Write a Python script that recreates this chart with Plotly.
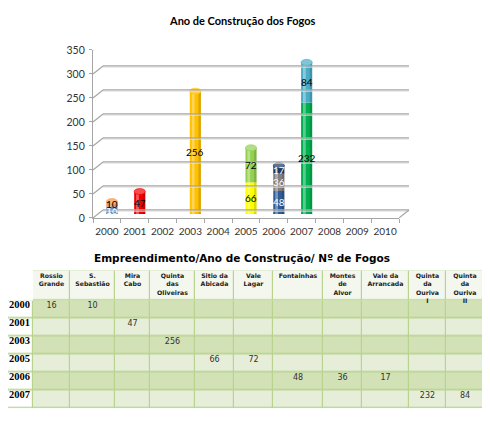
"""
Grafico de cilindros (ano de construcao dos fogos) e tabela
empreendimento / ano / numero de fogos.
"""

# imports
import plotly.graph_objects as go

# categorias do eixo x do grafico
anos = ["2000", "2001", "2002", "2003", "2004", "2005",
        "2006", "2007", "2008", "2009", "2010"]
ticks_y = [0, 50, 100, 150, 200, 250, 300, 350]

# empreendimentos (cabecalho da tabela), ano e numero de fogos
empreendimentos = ["Rossio<br>Grande", "S.<br>Sebastião", "Mira<br>Cabo",
                   "Quinta<br>das<br>Oliveiras", "Sitio da<br>Abicada",
                   "Vale<br>Lagar", "Fontainhas", "Montes<br>de<br>Alvor",
                   "Vale da<br>Arrancada", "Quinta<br>da<br>Ouriva<br>I",
                   "Quinta<br>da<br>Ouriva<br>II"]
ano_empreendimento = ["2000", "2000", "2001", "2003", "2005", "2005",
                      "2006", "2006", "2006", "2007", "2007"]
fogos = [16, 10, 47, 256, 66, 72, 48, 36, 17, 232, 84]

# estilos
cores = ["#5a8ac9", "#f79646", "#f20000", "#ffc000", "#ffff00", "#92d050",
         "#2f5b96", "#808080", "#1f3864", "#00b050", "#4bacc6"]
cor_texto = ["white", "black", "black", "black", "black", "black",
             "white", "white", "white", "black", "black"]

# a pagina tem 8px de margem no body: tudo em pixeis da referencia
M = 8
W, H = 490 - M, 423 - M


def fx(px):
    return (px - M) / W


def fy(py):
    return 1 - (py - M) / H


def clarear(hexcor, t):
    r, g, b = (int(hexcor[i:i + 2], 16) for i in (1, 3, 5))
    r, g, b = (int(c + (255 - c) * t) for c in (r, g, b))
    return "rgb(%d,%d,%d)" % (r, g, b)


fig = go.Figure()

# ---------- grafico ----------
# base de cada segmento (soma dos anteriores no mesmo ano)
bases = []
for i, a in enumerate(ano_empreendimento):
    bases.append(sum(f for f, b in zip(fogos[:i], ano_empreendimento[:i]) if b == a))

LARG = 0.4
for i in range(len(fogos)):
    x = [ano_empreendimento[i]]
    fig.add_trace(go.Bar(x=x, y=[fogos[i]], base=[bases[i]], width=LARG,
                         marker=dict(color=cores[i], line=dict(width=0)),
                         xaxis="x2", yaxis="y2", hoverinfo="skip"))
    # brilho e sombra do cilindro
    fig.add_trace(go.Bar(x=x, y=[fogos[i]], base=[bases[i]], width=0.1,
                         offset=-0.13,
                         marker=dict(color="rgba(255,255,255,0.35)", line=dict(width=0)),
                         xaxis="x2", yaxis="y2", hoverinfo="skip"))
    fig.add_trace(go.Bar(x=x, y=[fogos[i]], base=[bases[i]], width=0.09,
                         offset=0.11,
                         marker=dict(color="rgba(0,0,0,0.14)", line=dict(width=0)),
                         xaxis="x2", yaxis="y2", hoverinfo="skip"))
    fig.add_annotation(x=anos.index(ano_empreendimento[i]),
                       y=bases[i] + fogos[i] / 2, xref="x", yref="y",
                       xshift=5, yshift=4, text=str(fogos[i]), showarrow=False,
                       font=dict(family="Lato", size=10, color=cor_texto[i]))

# topos e fundos dos cilindros
for a in sorted(set(ano_empreendimento)):
    idx = [i for i, b in enumerate(ano_empreendimento) if b == a]
    topo = idx[-1]
    fundo = idx[0]
    k = anos.index(a)
    fig.add_shape(type="circle", xref="x2", yref="y2", ysizemode="pixel",
                  yanchor=bases[topo] + fogos[topo], y0=-3, y1=3,
                  x0=k - LARG / 2, x1=k + LARG / 2,
                  fillcolor=clarear(cores[topo], 0.3),
                  line=dict(color=cores[topo], width=0.6), layer="above")
    fig.add_shape(type="circle", xref="x2", yref="y2", ysizemode="pixel",
                  yanchor=0, y0=-3, y1=3,
                  x0=k - LARG / 2, x1=k + LARG / 2,
                  fillcolor=cores[fundo], line=dict(width=0), layer="below")

# paredes 3D: linhas de grelha no fundo
DX, DY = 10, 8
CINZA = "#a6a6a6"
for v in ticks_y:
    fig.add_shape(type="line", xref="x domain", yref="y", xsizemode="pixel",
                  ysizemode="pixel", xanchor=0, yanchor=v, x0=DX, x1=DX + 306,
                  y0=DY - 1.2, y1=DY - 1.2, line=dict(color="#e0e0e0", width=1))
    fig.add_shape(type="line", xref="x domain", yref="y", xsizemode="pixel",
                  ysizemode="pixel", xanchor=0, yanchor=v, x0=DX, x1=DX + 306,
                  y0=DY, y1=DY, line=dict(color=CINZA, width=1.2))
    fig.add_shape(type="line", xref="x domain", yref="y", xsizemode="pixel",
                  ysizemode="pixel", xanchor=0, yanchor=v, x0=0, x1=DX,
                  y0=0, y1=DY, line=dict(color=CINZA, width=1.2))
fig.add_shape(type="line", xref="x domain", yref="y", xsizemode="pixel",
              ysizemode="pixel", xanchor=1, yanchor=0, x0=0, x1=DX,
              y0=0, y1=DY, line=dict(color=CINZA, width=1.2))

# ---------- tabela (eixos x3/y3 em pixeis da referencia) ----------
anos_tabela = sorted(set(ano_empreendimento))
larguras = [33, 37, 45, 35, 45, 39, 39, 50, 39, 47, 37, 38]
bordas_x = [0]
for w in larguras:
    bordas_x.append(bordas_x[-1] + w)
centros_x = [(bordas_x[j] + bordas_x[j + 1]) / 2 for j in range(len(larguras))]
TOPO, CAB, FUNDO = 272, 303, 414
alt = (FUNDO - CAB) / len(anos_tabela)
bordas_y = [CAB + alt * j for j in range(len(anos_tabela) + 1)]

VERDE = "#b9d38f"
escala = [[0, "white"], [1 / 3, "#d2e1b6"], [2 / 3, "#e6eed9"], [1, "#f3f7ed"]]

# fundo verde que aparece nas separacoes das celulas
fig.add_shape(type="rect", xref="x3", yref="y3", x0=bordas_x[1], x1=bordas_x[-1],
              y0=TOPO, y1=CAB, fillcolor=VERDE, line=dict(width=0), layer="below")
fig.add_shape(type="rect", xref="x3", yref="y3", x0=M, x1=bordas_x[-1],
              y0=CAB, y1=FUNDO, fillcolor=VERDE, line=dict(width=0), layer="below")

fig.add_trace(go.Heatmap(
    x=bordas_x, y=[TOPO, CAB], z=[[0] + [3] * len(fogos)],
    colorscale=escala, zmin=0, zmax=3, showscale=False, xgap=1.2, ygap=1.2,
    xaxis="x3", yaxis="y3", hoverinfo="skip"))
fig.add_trace(go.Heatmap(
    x=bordas_x, y=bordas_y,
    z=[[0] + [1 + j % 2] * len(fogos) for j in range(len(anos_tabela))],
    colorscale=escala, zmin=0, zmax=3, showscale=False, xgap=1.2, ygap=1.6,
    xaxis="x3", yaxis="y3", hoverinfo="skip"))

# cabecalho
fig.add_trace(go.Scatter(
    x=centros_x[1:], y=[TOPO + 3.5] * len(empreendimentos), mode="text",
    text=["<b>%s</b>" % e for e in empreendimentos], textposition="bottom center",
    textfont=dict(family="DejaVu Sans", size=6.2, color="#222222"),
    xaxis="x3", yaxis="y3", hoverinfo="skip", cliponaxis=False))
# anos (linhas)
fig.add_trace(go.Scatter(
    x=[19.5] * len(anos_tabela), y=[b + 5.5 for b in bordas_y[:-1]], mode="text",
    text=["<b>%s</b>" % a for a in anos_tabela], textposition="middle center",
    textfont=dict(family="Liberation Serif", size=10.5, color="black"),
    xaxis="x3", yaxis="y3", hoverinfo="skip", cliponaxis=False))
# valores
fig.add_trace(go.Scatter(
    x=[centros_x[i + 1] for i in range(len(fogos))],
    y=[bordas_y[anos_tabela.index(a)] + 5.5 for a in ano_empreendimento],
    mode="text", text=[str(f) for f in fogos], textposition="middle center",
    textfont=dict(family="DejaVu Sans", size=8, color="#333333"),
    xaxis="x3", yaxis="y3", hoverinfo="skip", cliponaxis=False))

# titulos
fig.add_annotation(x=fx(242), y=fy(15), xref="paper", yref="paper",
                   yanchor="middle", text="<b>Ano de Construção dos Fogos</b>",
                   showarrow=False, font=dict(family="Lato", size=11, color="black"))
fig.add_annotation(x=fx(242), y=fy(259), xref="paper", yref="paper",
                   yanchor="middle",
                   text="<b>Empreendimento/Ano de Construção/ Nº de Fogos</b>",
                   showarrow=False,
                   font=dict(family="DejaVu Sans", size=10.5, color="black"))

oculto = dict(showticklabels=False, showgrid=False, zeroline=False,
              showline=False, ticks="")
fig.update_layout(
    width=W, height=H, margin=dict(l=0, r=0, t=0, b=0),
    paper_bgcolor="white", plot_bgcolor="white",
    barmode="overlay", showlegend=False,
    xaxis=dict(domain=[fx(93), fx(399)], type="category", categoryorder="array",
               categoryarray=anos, range=[-0.5, 10.5], showline=True,
               linecolor=CINZA, linewidth=1.2, ticks="outside",
               tickson="boundaries", ticklen=4, tickcolor=CINZA, tickangle=0,
               ticklabelstandoff=4, showgrid=False, anchor="y",
               tickfont=dict(family="Lato", size=10, color="#333333")),
    yaxis=dict(domain=[fy(218), fy(45)], range=[0, 350], tickvals=ticks_y,
               showline=True, linecolor=CINZA, linewidth=1.2, ticks="outside",
               ticklen=3, tickcolor=CINZA, ticklabelstandoff=2, showgrid=False,
               zeroline=False, anchor="x",
               tickfont=dict(family="Lato", size=10.5, color="#333333")),
    xaxis2=dict(domain=[fx(98), fx(404)], type="category", categoryorder="array",
                categoryarray=anos, range=[-0.5, 10.5], visible=False,
                anchor="y2"),
    yaxis2=dict(domain=[fy(214), fy(41)], range=[0, 350], visible=False,
                anchor="x2"),
    xaxis3=dict(domain=[fx(M), fx(484)], range=[M, 484], anchor="y3", **oculto),
    yaxis3=dict(domain=[fy(FUNDO), fy(TOPO)], range=[FUNDO, TOPO], anchor="x3",
                **oculto),
)

fig.write_html("out.html")
